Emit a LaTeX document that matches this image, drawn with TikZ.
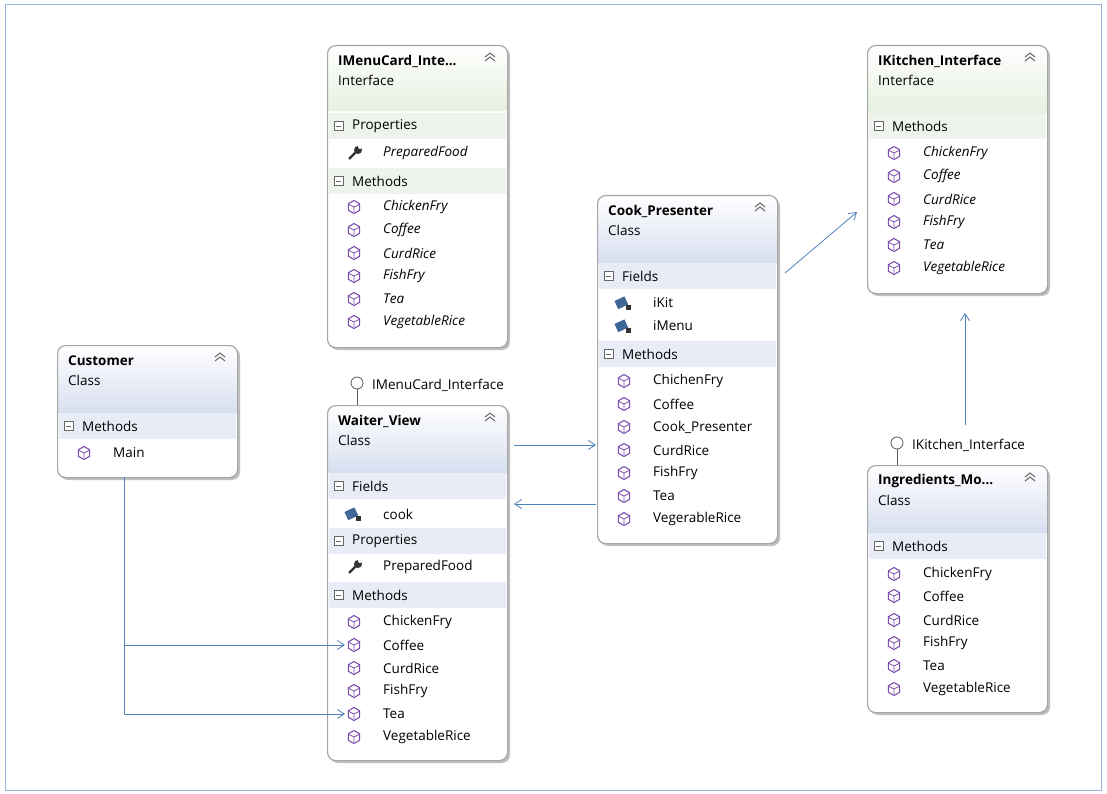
\documentclass[tikz,border=0pt]{standalone}
\usepackage{fontspec}
\setmainfont{Open Sans}
\usetikzlibrary{shapes.geometric,arrows.meta,shadows}
\definecolor{edge}{HTML}{4F81BD}
\definecolor{ihead}{HTML}{E6F0E0}
\definecolor{chead}{HTML}{D8DFF0}
\definecolor{iband}{HTML}{EEF3EC}
\definecolor{cband}{HTML}{E8ECF6}
\definecolor{mpurple}{HTML}{7E4FB0}
\tikzset{
  txt/.style={font=\fontsize{13.5}{15}\selectfont, anchor=west, inner sep=0},
  ttl/.style={font=\bfseries\fontsize{13.5}{15}\selectfont, anchor=west, inner sep=0},
  conn/.style={draw=edge, line width=0.8pt, -{Straight Barb[length=7pt,width=9pt]}},
  frame/.style={draw=gray!70, line width=1.2pt, rounded corners=8pt},
}
% box: name, x, y, h, header h, title, kind, header colour
\newcommand\umlbox[8]{%
  \fill[black!25, rounded corners=8pt] (#2+3,#3+3) rectangle ({#2+183},{#3+#4+3});
  \fill[white, rounded corners=8pt] (#2,#3) rectangle ({#2+180},{#3+#4});
  \begin{scope}
    \clip[rounded corners=8pt] (#2,#3) rectangle ({#2+180},{#3+#4});
    \shade[top color=white, bottom color=#8] (#2,#3) rectangle ({#2+180},{#3+#5});
  \end{scope}
  \node[frame, minimum width=180pt, minimum height=#4 pt, inner sep=0, anchor=north west] (#1) at (#2,#3) {};
  \node[ttl] (#1-t) at (#2+11,#3+16) {#6};
  \node[txt] (#1-k) at (#2+11,#3+35) {#7};
  \draw[gray!80!black, line width=1pt] ({#2+158},{#3+12}) -- ({#2+163},{#3+8}) -- ({#2+168},{#3+12})
     ({#2+158},{#3+16}) -- ({#2+163},{#3+12}) -- ({#2+168},{#3+16});
}
% band: x, y, label, colour
\newcommand\band[4]{%
  \fill[#4] ({#1+1.5},{#2-13}) rectangle ({#1+178.5},{#2+13});
  \draw[gray!80!black, fill=white] ({#1+7},{#2-4.5}) rectangle ({#1+16},{#2+4.5});
  \draw[gray!80!black] ({#1+9},#2) -- ({#1+14},#2);
  \node[txt] at ({#1+25},#2) {#3};
}
\newcommand\meth[3]{% x y text
  \node[regular polygon, regular polygon sides=6, shape border rotate=30, draw=mpurple, line width=1.1pt, minimum size=13pt, inner sep=0] at ({#1+27},#2) {};
  \draw[mpurple, line width=0.8pt] ({#1+27},{#2}) -- ({#1+27},{#2+5}) ({#1+22},{#2-2.5}) -- ({#1+27},{#2}) -- ({#1+32},{#2-2.5});
  \node[txt] at ({#1+56},#2) {#3};
}
\newcommand\fld[3]{%
  \fill[edge!80!black, rotate around={25:({#1+25},#2)}] ({#1+19},{#2-5}) rectangle ({#1+30},{#2+4});
  \fill[black!80] ({#1+29},{#2+2}) rectangle ({#1+34},{#2+7});
  \node[txt] at ({#1+56},#2) {#3};
}
\newcommand\prop[3]{%
  \draw[black!80, line width=2.2pt] ({#1+22},{#2+6}) -- ({#1+30},{#2-2});
  \fill[black!80] ({#1+31},{#2-3}) circle (4pt);
  \fill[white] ({#1+33},{#2-6}) circle (2pt);
  \node[txt] at ({#1+56},#2) {#3};
}
\begin{document}
\begin{tikzpicture}[x=1pt,y=-1pt]
\useasboundingbox (0,0) rectangle (1107,794);
\fill[white] (0,0) rectangle (1107,794);
\draw[edge!60, line width=1pt] (5,5) rectangle (1101,790);

% IMenuCard_Interface
\umlbox{imenu}{327}{45}{302}{66}{IMenuCard\_Inte...}{Interface}{ihead}
\band{327}{126}{Properties}{iband}
\prop{327}{153}{\textit{PreparedFood}}
\band{327}{181}{Methods}{iband}
\meth{327}{207}{\textit{ChickenFry}}
\meth{327}{230}{\textit{Coffee}}
\meth{327}{253}{\textit{CurdRice}}
\meth{327}{276}{\textit{FishFry}}
\meth{327}{299}{\textit{Tea}}
\meth{327}{322}{\textit{VegetableRice}}

% IKitchen_Interface
\umlbox{ikit}{867}{45}{248}{68}{IKitchen\_Interface}{Interface}{ihead}
\band{867}{126}{Methods}{iband}
\meth{867}{153}{\textit{ChickenFry}}
\meth{867}{176}{\textit{Coffee}}
\meth{867}{199}{\textit{CurdRice}}
\meth{867}{222}{\textit{FishFry}}
\meth{867}{245}{\textit{Tea}}
\meth{867}{268}{\textit{VegetableRice}}

% Cook_Presenter
\umlbox{cook}{597}{195}{348}{67}{Cook\_Presenter}{Class}{chead}
\band{597}{276}{Fields}{cband}
\fld{597}{303}{iKit}
\fld{597}{326}{iMenu}
\band{597}{354}{Methods}{cband}
\meth{597}{381}{ChichenFry}
\meth{597}{404}{Coffee}
\meth{597}{427}{Cook\_Presenter}
\meth{597}{450}{CurdRice}
\meth{597}{473}{FishFry}
\meth{597}{496}{Tea}
\meth{597}{519}{VegerableRice}

% Customer
\umlbox{cust}{57}{345}{132}{67}{Customer}{Class}{chead}
\band{57}{426}{Methods}{cband}
\meth{57}{453}{Main}

% Waiter_View
\umlbox{waiter}{327}{405}{355}{67}{Waiter\_View}{Class}{chead}
\band{327}{486}{Fields}{cband}
\fld{327}{514}{cook}
\band{327}{541}{Properties}{cband}
\prop{327}{567}{PreparedFood}
\band{327}{595}{Methods}{cband}
\meth{327}{622}{ChickenFry}
\meth{327}{645}{Coffee}
\meth{327}{668}{CurdRice}
\meth{327}{691}{FishFry}
\meth{327}{714}{Tea}
\meth{327}{737}{VegetableRice}

% Ingredients_Model
\umlbox{ingr}{867}{465}{247}{67}{Ingredients\_Mo...}{Class}{chead}
\band{867}{546}{Methods}{cband}
\meth{867}{574}{ChickenFry}
\meth{867}{596}{Coffee}
\meth{867}{620}{CurdRice}
\meth{867}{643}{FishFry}
\meth{867}{666}{Tea}
\meth{867}{689}{VegetableRice}

% lollipops
\node[circle, draw=gray!70!black, fill=white, line width=0.8pt, minimum size=12pt, inner sep=0] (lm) at (357,383) {};
\draw[gray!70!black, line width=0.8pt] (lm.south) -- (357,405);
\node[txt] at (372,385) {IMenuCard\_Interface};
\node[circle, draw=gray!70!black, fill=white, line width=0.8pt, minimum size=12pt, inner sep=0] (lk) at (897,443) {};
\draw[gray!70!black, line width=0.8pt] (lk.south) -- (897,465);
\node[txt] at (912,445) {IKitchen\_Interface};

% connectors
\coordinate (c1) at (785,273); \coordinate (c2) at (857,212);
\draw[conn] (c1) -- (c2);
\coordinate (i1) at (965,425); \coordinate (i2) at (965,313);
\draw[conn] (i1) -- (i2);
\coordinate (w1) at (514,445); \coordinate (w2) at (596,445);
\draw[conn] (w1) -- (w2);
\coordinate (k1) at (596,504); \coordinate (k2) at (514,504);
\draw[conn] (k1) -- (k2);
\coordinate (m0) at (124,477); \coordinate (m1) at (124,645); \coordinate (m2) at (124,714);
\coordinate (t1) at (345,645); \coordinate (t2) at (345,714);
\draw[conn] (m0) |- (t2);
\draw[conn] (m1) -- (t1);
\end{tikzpicture}
\end{document}
